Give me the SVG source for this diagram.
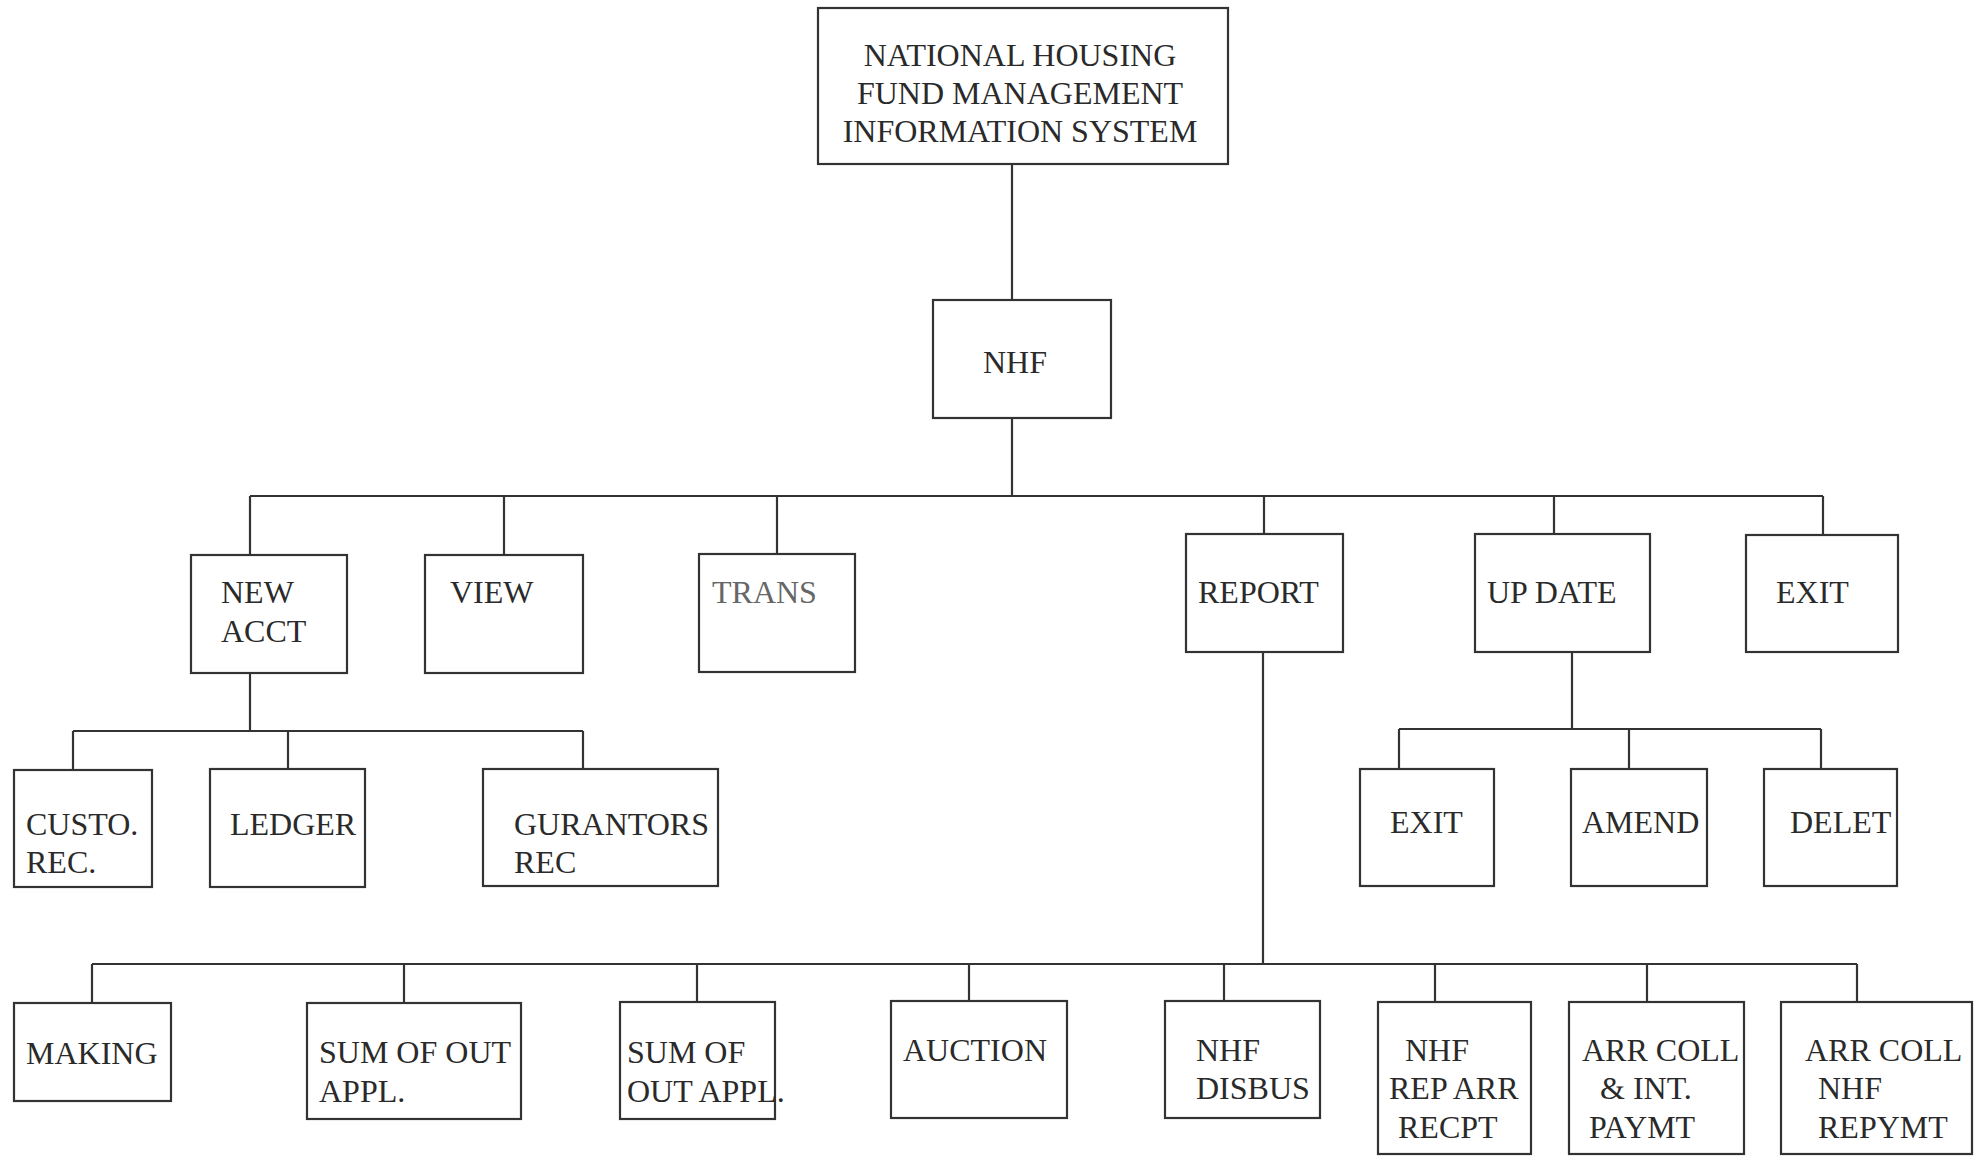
<svg xmlns="http://www.w3.org/2000/svg" width="1981" height="1156" viewBox="0 0 1981 1156">
<style>
rect.box{fill:none;stroke:#333;stroke-width:2.2}
.conn line{stroke:#333;stroke-width:2.2}
text{font-family:"Liberation Serif","Times New Roman",serif;font-size:32px;fill:#2a2a2a}
text.c{text-anchor:middle}
</style>
<rect width="1981" height="1156" fill="#fff"/>
<g class="conn">
<line x1="1012" y1="164" x2="1012" y2="300"/>
<line x1="1012" y1="418" x2="1012" y2="496"/>
<line x1="250" y1="496" x2="1823" y2="496"/>
<line x1="250" y1="496" x2="250" y2="555"/>
<line x1="504" y1="496" x2="504" y2="555"/>
<line x1="777" y1="496" x2="777" y2="554"/>
<line x1="1264" y1="496" x2="1264" y2="534"/>
<line x1="1554" y1="496" x2="1554" y2="534"/>
<line x1="1823" y1="496" x2="1823" y2="535"/>
<line x1="250" y1="673" x2="250" y2="731"/>
<line x1="73" y1="731" x2="583" y2="731"/>
<line x1="73" y1="731" x2="73" y2="770"/>
<line x1="288" y1="731" x2="288" y2="769"/>
<line x1="583" y1="731" x2="583" y2="769"/>
<line x1="1572" y1="652" x2="1572" y2="729"/>
<line x1="1399" y1="729" x2="1821" y2="729"/>
<line x1="1399" y1="729" x2="1399" y2="769"/>
<line x1="1629" y1="729" x2="1629" y2="769"/>
<line x1="1821" y1="729" x2="1821" y2="769"/>
<line x1="1263" y1="652" x2="1263" y2="964"/>
<line x1="92" y1="964" x2="1857" y2="964"/>
<line x1="92" y1="964" x2="92" y2="1003"/>
<line x1="404" y1="964" x2="404" y2="1003"/>
<line x1="697" y1="964" x2="697" y2="1002"/>
<line x1="969" y1="964" x2="969" y2="1001"/>
<line x1="1224" y1="964" x2="1224" y2="1001"/>
<line x1="1435" y1="964" x2="1435" y2="1002"/>
<line x1="1647" y1="964" x2="1647" y2="1002"/>
<line x1="1857" y1="964" x2="1857" y2="1002"/>
</g>
<g id="root"><rect class="box" x="818" y="8" width="410" height="156"/>
<text class="c" x="1020" y="66">NATIONAL HOUSING</text>
<text class="c" x="1020" y="104">FUND MANAGEMENT</text>
<text class="c" x="1020" y="142">INFORMATION SYSTEM</text></g>
<g id="nhf"><rect class="box" x="933" y="300" width="178" height="118"/><text x="983" y="373">NHF</text></g>
<g id="newacct"><rect class="box" x="191" y="555" width="156" height="118"/><text x="221" y="603">NEW</text><text x="221" y="642">ACCT</text></g>
<g id="view"><rect class="box" x="425" y="555" width="158" height="118"/><text x="450" y="603">VIEW</text></g>
<g id="trans"><rect class="box" x="699" y="554" width="156" height="118"/><text x="712" y="603" fill="#666" style="fill:#666">TRANS</text></g>
<g id="report"><rect class="box" x="1186" y="534" width="157" height="118"/><text x="1198" y="603">REPORT</text></g>
<g id="update"><rect class="box" x="1475" y="534" width="175" height="118"/><text x="1487" y="603">UP DATE</text></g>
<g id="exit1"><rect class="box" x="1746" y="535" width="152" height="117"/><text x="1776" y="603">EXIT</text></g>
<g id="custo"><rect class="box" x="14" y="770" width="138" height="117"/><text x="26" y="835">CUSTO.</text><text x="26" y="873">REC.</text></g>
<g id="ledger"><rect class="box" x="210" y="769" width="155" height="118"/><text x="230" y="835">LEDGER</text></g>
<g id="gurantors"><rect class="box" x="483" y="769" width="235" height="117"/><text x="514" y="835">GURANTORS</text><text x="514" y="873">REC</text></g>
<g id="exit2"><rect class="box" x="1360" y="769" width="134" height="117"/><text x="1390" y="833">EXIT</text></g>
<g id="amend"><rect class="box" x="1571" y="769" width="136" height="117"/><text x="1582" y="833">AMEND</text></g>
<g id="delet"><rect class="box" x="1764" y="769" width="133" height="117"/><text x="1790" y="833">DELET</text></g>
<g id="making"><rect class="box" x="14" y="1003" width="157" height="98"/><text x="26" y="1064">MAKING</text></g>
<g id="sumout1"><rect class="box" x="307" y="1003" width="214" height="116"/><text x="319" y="1063">SUM OF OUT</text><text x="319" y="1102">APPL.</text></g>
<g id="sumout2"><rect class="box" x="620" y="1002" width="155" height="117"/><text x="627" y="1063">SUM OF</text><text x="627" y="1102">OUT APPL.</text></g>
<g id="auction"><rect class="box" x="891" y="1001" width="176" height="117"/><text x="903" y="1061">AUCTION</text></g>
<g id="disbus"><rect class="box" x="1165" y="1001" width="155" height="117"/><text x="1196" y="1061">NHF</text><text x="1196" y="1099">DISBUS</text></g>
<g id="reparr"><rect class="box" x="1378" y="1002" width="153" height="152"/><text x="1405" y="1061">NHF</text><text x="1389" y="1099">REP ARR</text><text x="1398" y="1138">RECPT</text></g>
<g id="arrint"><rect class="box" x="1569" y="1002" width="175" height="152"/><text x="1582" y="1061">ARR COLL</text><text x="1600" y="1099">&amp; INT.</text><text x="1589" y="1138">PAYMT</text></g>
<g id="arrnhf"><rect class="box" x="1781" y="1002" width="191" height="152"/><text x="1805" y="1061">ARR COLL</text><text x="1818" y="1099">NHF</text><text x="1818" y="1138">REPYMT</text></g>
</svg>
